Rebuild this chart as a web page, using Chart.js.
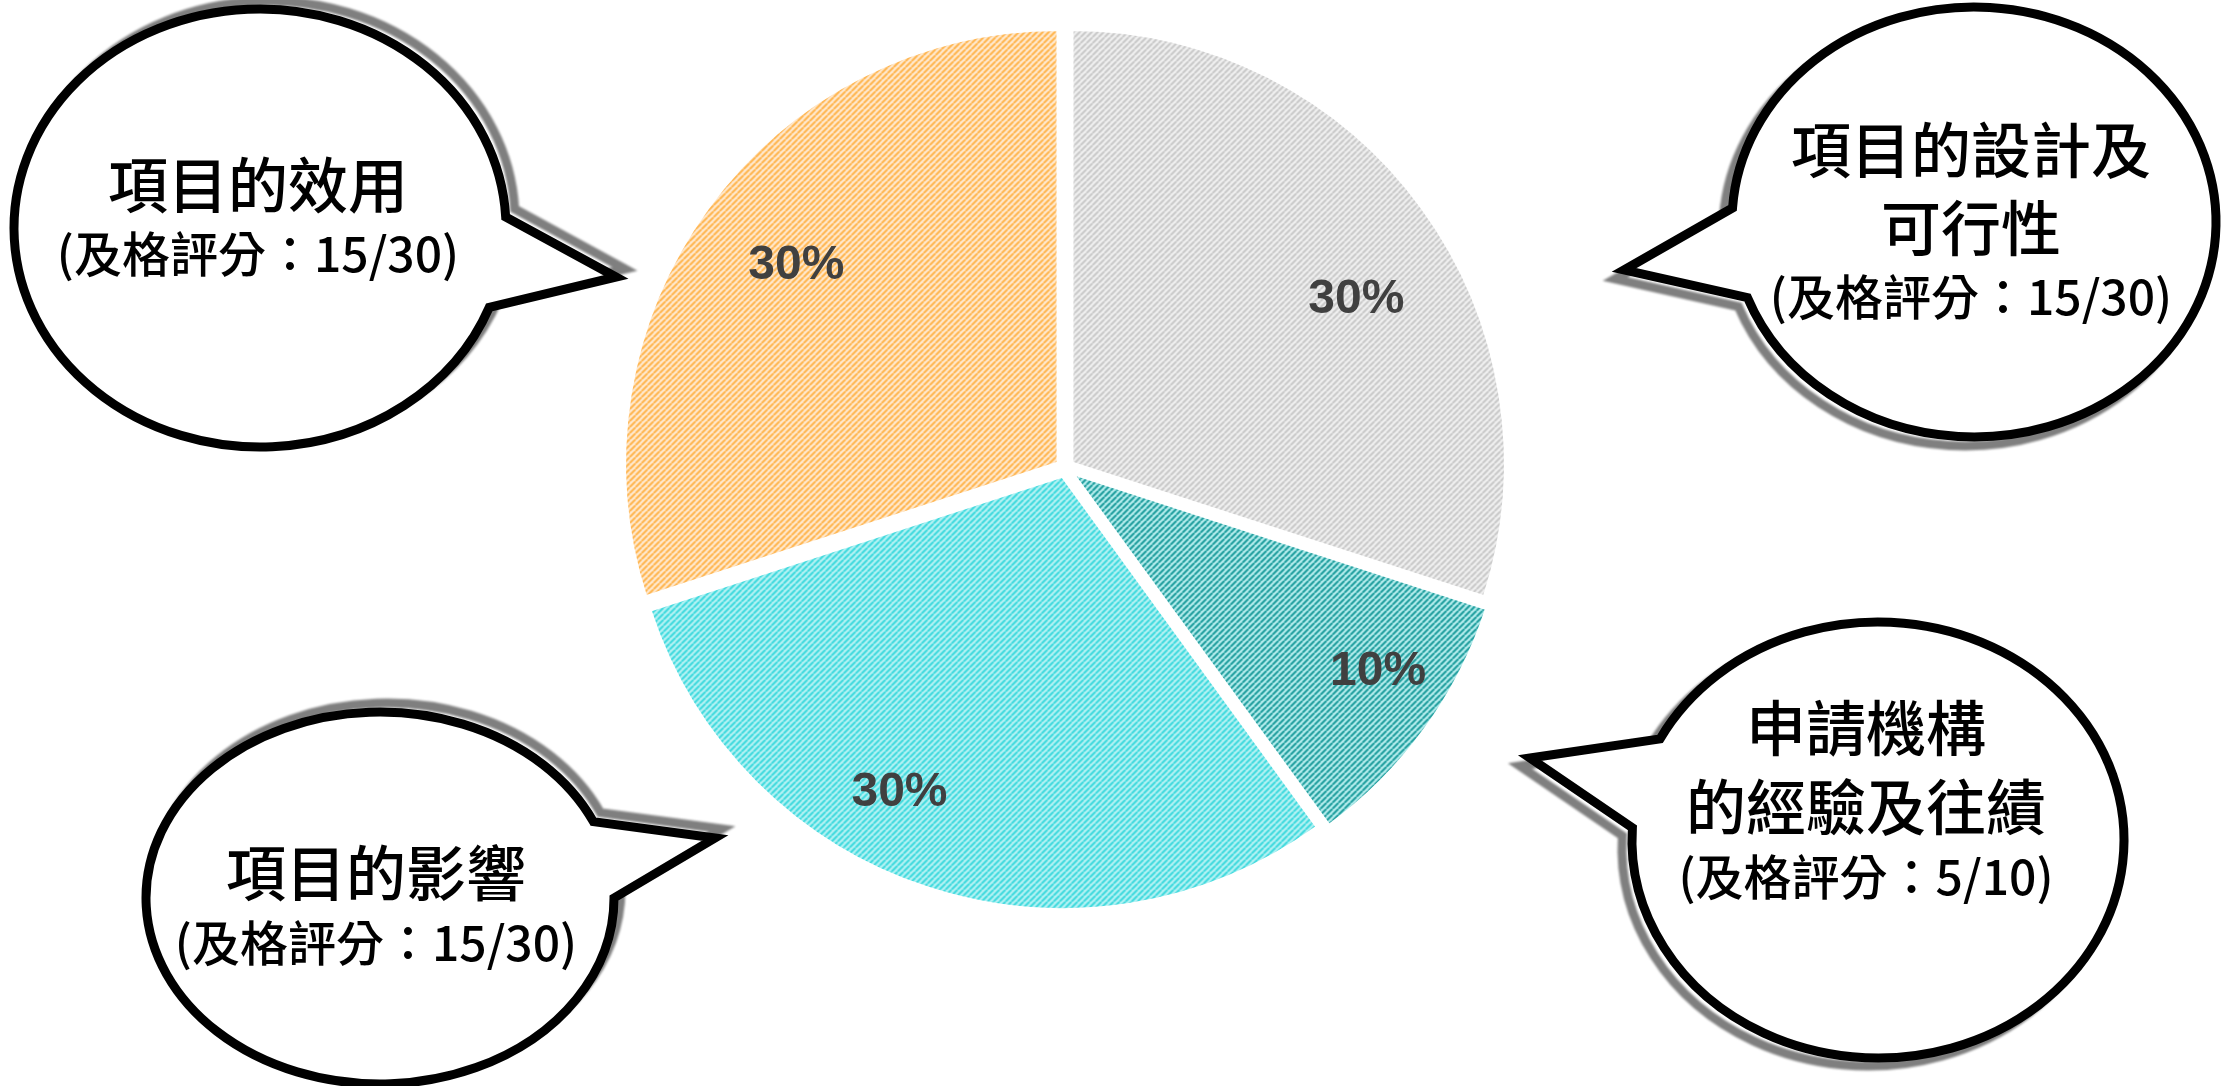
<!DOCTYPE html>
<html><head><meta charset="utf-8">
<script src="https://cdn.jsdelivr.net/npm/chart.js@4.4.0/dist/chart.umd.min.js"></script>
<style>
html,body{margin:0;padding:0;background:#fff;overflow:hidden}
#wrap{position:absolute;left:0;top:0;width:2227px;height:1086px}
</style>
</head><body>
<div id="wrap"><canvas id="c"></canvas></div>
<script>
// ---- data ----
const categories = [['項目的設計及', '可行性'], ['申請機構', '的經驗及往績'], ['項目的影響'], ['項目的效用']];
const weights = [30, 10, 30, 30];
const passMarks = ['15/30', '5/10', '15/30', '15/30'];
const passLabel = '及格評分';

// ---- styles ----
const sliceColors = [
  {bg: '#F1F1F1', line: '#C9C9C9'},
  {bg: '#B9EFEF', line: '#1C9C9C'},
  {bg: '#B8F3F4', line: '#3CD9DD'},
  {bg: '#FFEBD3', line: '#FFB44C'}
];
function makePattern(bg, line) {
  const s = 6;
  const t = document.createElement('canvas');
  t.width = s; t.height = s;
  const g = t.getContext('2d');
  g.fillStyle = bg; g.fillRect(0, 0, s, s);
  g.strokeStyle = line; g.lineWidth = 2.1;
  g.beginPath();
  for (let k = -1; k <= 1; k++) { g.moveTo(k * s, s); g.lineTo(k * s + s, 0); }
  g.stroke();
  return document.createElement('canvas').getContext('2d').createPattern(t, 'repeat');
}

const bubbles = [
  {cx: 1974, cy: 222, rx: 242, ry: 215, n1: [1734, 208], tip: [1624, 270], n2: [1746, 298], sh: [-9, 9], tx: 1971, ty: [150, 228], sy: 297},
  {cx: 1878, cy: 840, rx: 246, ry: 218, n1: [1658, 738], tip: [1530, 758], n2: [1637, 828], sh: [-10, 8], tx: 1866, ty: [728, 807], sy: 877},
  {cx: 380, cy: 898, rx: 234, ry: 186, n1: [598, 820], tip: [715, 838], n2: [609, 898], sh: [7, -9], tx: 376, ty: [873], sy: 943},
  {cx: 260, cy: 228, rx: 246, ry: 219, n1: [507, 217], tip: [616, 277], n2: [491, 308], sh: [9, -8], tx: 258, ty: [185], sy: 254}
];
const labelPlace = [
  {frac: 0.775, da: 6}, {frac: 0.86, da: -3}, {frac: 0.84, da: 9}, {frac: 0.775, da: 1}
];

const CJK = '"Noto Sans CJK TC", "Noto Sans CJK SC", sans-serif';

function bubblePath(ctx, b, dx, dy) {
  const ang = p => Math.atan2((p[1] - b.cy) / b.ry, (p[0] - b.cx) / b.rx);
  const a1 = ang(b.n1), a2 = ang(b.n2);
  const d = ((a2 - a1) % (2 * Math.PI) + 2 * Math.PI) % (2 * Math.PI);
  const anti = d < Math.PI;
  ctx.beginPath();
  ctx.moveTo(b.tip[0] + dx, b.tip[1] + dy);
  ctx.lineTo(b.cx + dx + b.rx * Math.cos(a1), b.cy + dy + b.ry * Math.sin(a1));
  ctx.ellipse(b.cx + dx, b.cy + dy, b.rx, b.ry, 0, a1, a2, anti);
  ctx.closePath();
}

const pctPlugin = {
  id: 'pct',
  afterDatasetsDraw(chart) {
    const ctx = chart.ctx;
    const meta = chart.getDatasetMeta(0);
    ctx.save();
    ctx.font = 'bold 48px "Liberation Sans", Arial, sans-serif';
    ctx.fillStyle = '#404040';
    ctx.textAlign = 'center';
    ctx.textBaseline = 'middle';
    meta.data.forEach((arc, i) => {
      const {x, y, startAngle, endAngle, outerRadius} = arc.getProps(['x', 'y', 'startAngle', 'endAngle', 'outerRadius'], true);
      const p = labelPlace[i];
      const mid = (startAngle + endAngle) / 2 + p.da * Math.PI / 180;
      const r = outerRadius * p.frac;
      ctx.fillText(chart.data.datasets[0].data[i] + '%', x + Math.cos(mid) * r, y + Math.sin(mid) * r);
    });
    ctx.restore();
  }
};

const bubblePlugin = {
  id: 'bubbles',
  afterDraw(chart) {
    const ctx = chart.ctx;
    ctx.save();
    bubbles.forEach((b, i) => {
      ctx.lineJoin = 'miter';
      ctx.lineWidth = 9;
      // shadow
      ctx.filter = 'blur(1px)';
      bubblePath(ctx, b, b.sh[0], b.sh[1]);
      ctx.strokeStyle = '#7F7F7F';
      ctx.stroke();
      ctx.filter = 'none';
      // bubble
      bubblePath(ctx, b, 0, 0);
      ctx.fillStyle = '#FFFFFF';
      ctx.fill();
      ctx.strokeStyle = '#000000';
      ctx.stroke();
      // text
      ctx.fillStyle = '#000';
      ctx.textAlign = 'center';
      ctx.textBaseline = 'middle';
      ctx.font = '500 60px ' + CJK;
      categories[i].forEach((line, k) => ctx.fillText(line, b.tx, b.ty[k]));
      ctx.font = '500 48px ' + CJK;
      ctx.fillText('(' + passLabel + '：' + passMarks[i] + ')', b.tx, b.sy);
    });
    ctx.restore();
  }
};

function build() {
  const patterns = sliceColors.map(c => makePattern(c.bg, c.line));
  new Chart(document.getElementById('c'), {
    type: 'pie',
    data: {
      labels: categories.map(l => l.join('')),
      datasets: [{
        data: weights,
        backgroundColor: patterns,
        borderColor: '#FFFFFF',
        borderWidth: 4,
        offset: 32,
        radius: 434
      }]
    },
    options: {
      responsive: true,
      maintainAspectRatio: false,
      animation: false,
      events: [],
      radius: 434,
      layout: {padding: {left: 0, right: 97, top: 0, bottom: 150}},
      plugins: {legend: {display: false}, tooltip: {enabled: false}}
    },
    plugins: [pctPlugin, bubblePlugin]
  });
}
Promise.all([
  document.fonts.load('60px "Noto Sans CJK TC"', '項目的設計及可行性'),
  document.fonts.load('bold 48px "Liberation Sans"', '30%')
]).then(build, build);
</script>
</body></html>
